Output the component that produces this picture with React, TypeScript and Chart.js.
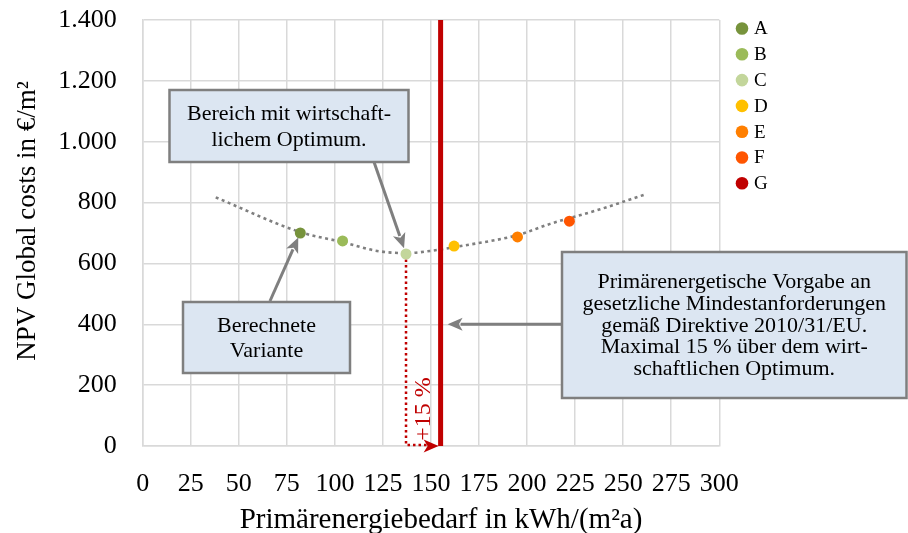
import React, { useEffect, useRef } from 'react';
import { Chart, registerables } from 'chart.js';

Chart.register(...registerables);

// ---------- data ----------
const variantLabels = ['A', 'B', 'C', 'D', 'E', 'F'];
const variantEnergy = [82, 104, 137, 162, 195, 222];
const variantCosts = [700, 674, 631, 657, 687, 739];
const variantColors = ['#77933C', '#9BBB59', '#C3D69B', '#FFC000', '#FF7F00', '#FF5500'];

const limitLabel = 'G';
const limitEnergy = 155;
const limitColor = '#C00000';

const trendEnergy = [38, 82, 104, 122, 137.5, 149.5, 163.5, 195, 212, 238, 262];
const trendCosts = [817, 703, 670, 641, 634, 641, 655, 693, 730, 778, 828];

const xMin = 0;
const xMax = 300;
const xStep = 25;
const yMin = 0;
const yMax = 1400;
const yStep = 200;

const yAxisTitle = 'NPV Global costs in €/m²';
const xAxisTitle = 'Primärenergiebedarf in kWh/(m²a)';
const noteOptimum = ['Bereich mit wirtschaft-', 'lichem Optimum.'];
const noteVariant = ['Berechnete', 'Variante'];
const noteLimit = [
  'Primärenergetische Vorgabe an',
  'gesetzliche Mindestanforderungen',
  'gemäß Direktive 2010/31/EU.',
  'Maximal 15 % über dem wirt-',
  'schaftlichen Optimum.',
];
const percentLabel = '+15 %';
const limitArrowCost = 400;

// ---------- helpers ----------
const FONT = "'Liberation Serif', serif";

function fmt(v: number): string {
  const s = String(Math.round(v));
  return s.replace(/\B(?=(\d{3})+(?!\d))/g, '.');
}

function arrow(ctx: CanvasRenderingContext2D, x1: number, y1: number, x2: number, y2: number, color: string, lw: number, headLen: number, headW: number) {
  const dx = x2 - x1;
  const dy = y2 - y1;
  const len = Math.hypot(dx, dy);
  const ux = dx / len;
  const uy = dy / len;
  const bx = x2 - ux * headLen;
  const by = y2 - uy * headLen;
  ctx.save();
  ctx.strokeStyle = color;
  ctx.fillStyle = color;
  ctx.lineWidth = lw;
  ctx.beginPath();
  ctx.moveTo(x1, y1);
  ctx.lineTo(bx + ux * 2, by + uy * 2);
  ctx.stroke();
  ctx.beginPath();
  ctx.moveTo(x2, y2);
  ctx.lineTo(bx - uy * headW / 2, by + ux * headW / 2);
  ctx.lineTo(bx + ux * headLen * 0.25, by + uy * headLen * 0.25);
  ctx.lineTo(bx + uy * headW / 2, by - ux * headW / 2);
  ctx.closePath();
  ctx.fill();
  ctx.restore();
}

function box(ctx: CanvasRenderingContext2D, x: number, y: number, w: number, h: number, lines: string[], size: number, lineH: number) {
  ctx.save();
  ctx.fillStyle = '#DCE6F2';
  ctx.strokeStyle = '#7F7F7F';
  ctx.lineWidth = 2.5;
  ctx.fillRect(x, y, w, h);
  ctx.strokeRect(x, y, w, h);
  ctx.fillStyle = '#000';
  ctx.font = `${size}px ${FONT}`;
  ctx.textAlign = 'center';
  ctx.textBaseline = 'middle';
  const cx = x + w / 2;
  const cy = y + h / 2;
  const start = cy - ((lines.length - 1) * lineH) / 2;
  lines.forEach((l, i) => ctx.fillText(l, cx, start + i * lineH + 1));
  ctx.restore();
}

const overlayPlugin = {
  id: 'overlay',
  beforeDatasetsDraw(chart: any) {
    const ctx = chart.ctx as CanvasRenderingContext2D;
    const xs = chart.scales.x;
    const ys = chart.scales.y;
    const cIdx = 2;
    const cx = xs.getPixelForValue(variantEnergy[cIdx]);
    const cy = ys.getPixelForValue(variantCosts[cIdx]);
    const by = ys.getPixelForValue(yMin);
    const lx = xs.getPixelForValue(limitEnergy);
    ctx.save();
    ctx.strokeStyle = limitColor;
    ctx.lineWidth = 2.5;
    ctx.setLineDash([2.5, 3]);
    ctx.beginPath();
    ctx.moveTo(cx, cy);
    ctx.lineTo(cx, by - 1);
    ctx.lineTo(lx - 14, by - 1);
    ctx.stroke();
    ctx.setLineDash([]);
    ctx.fillStyle = limitColor;
    ctx.beginPath();
    ctx.moveTo(lx - 2, by);
    ctx.lineTo(lx - 17, by - 6.5);
    ctx.lineTo(lx - 13, by);
    ctx.lineTo(lx - 17, by + 6.5);
    ctx.closePath();
    ctx.fill();
    // +15 % label
    ctx.translate(cx + 18, by - 37);
    ctx.rotate(-Math.PI / 2);
    ctx.font = `24px ${FONT}`;
    ctx.textAlign = 'center';
    ctx.textBaseline = 'middle';
    ctx.fillText(percentLabel, 0, 0);
    ctx.restore();
  },
  afterDraw(chart: any) {
    const ctx = chart.ctx as CanvasRenderingContext2D;
    const xs = chart.scales.x;
    const ys = chart.scales.y;

    // axis titles
    ctx.save();
    ctx.fillStyle = '#000';
    ctx.font = `29px ${FONT}`;
    ctx.textAlign = 'center';
    ctx.textBaseline = 'middle';
    ctx.fillText(xAxisTitle, 441, 520);
    ctx.font = `27px ${FONT}`;
    ctx.translate(28, 221);
    ctx.rotate(-Math.PI / 2);
    ctx.fillText(yAxisTitle, 0, 0);
    ctx.restore();

    // legend
    ctx.save();
    ctx.font = `19px ${FONT}`;
    ctx.textBaseline = 'middle';
    ctx.textAlign = 'left';
    const legendLabels = [...variantLabels, limitLabel];
    const legendColors = [...variantColors, limitColor];
    legendLabels.forEach((l, i) => {
      const y = 28.5 + i * 25.8;
      ctx.fillStyle = legendColors[i];
      ctx.beginPath();
      ctx.arc(742, y, 6.3, 0, Math.PI * 2);
      ctx.fill();
      ctx.fillStyle = '#000';
      ctx.fillText(l, 754, y + 1);
    });
    ctx.restore();

    // arrows
    const grey = '#7F7F7F';
    const ax = xs.getPixelForValue(variantEnergy[0]);
    const ay = ys.getPixelForValue(variantCosts[0]);
    {
      const sx = 270, sy = 301;
      const d = Math.hypot(ax - sx, ay - sy);
      arrow(ctx, sx, sy, ax - ((ax - sx) / d) * 5, ay - ((ay - sy) / d) * 5, grey, 3, 15, 13);
    }
    const cx = xs.getPixelForValue(variantEnergy[2]);
    const cy = ys.getPixelForValue(variantCosts[2]);
    {
      const sx = 374, sy = 162;
      const d = Math.hypot(cx - sx, cy - sy);
      arrow(ctx, sx, sy, cx - ((cx - sx) / d) * 6, cy - ((cy - sy) / d) * 6, grey, 3, 15, 13);
    }
    const lx = xs.getPixelForValue(limitEnergy);
    const ly = ys.getPixelForValue(limitArrowCost);
    arrow(ctx, 562, ly, lx + 7, ly, grey, 3, 15, 13);

    // boxes
    box(ctx, 169.5, 90, 239, 72, noteOptimum, 22, 26.5);
    box(ctx, 183, 302, 167, 71, noteVariant, 22, 25);
    box(ctx, 562, 252, 344.5, 146, noteLimit, 22, 21.7);
  },
};

export default function App() {
  const ref = useRef<HTMLCanvasElement>(null);
  useEffect(() => {
    document.body.style.margin = '0';
    const canvas = ref.current!;
    const datasets: any[] = [];
    variantLabels.forEach((l, i) => {
      datasets.push({
        type: 'scatter',
        label: l,
        data: [{ x: variantEnergy[i], y: variantCosts[i] }],
        backgroundColor: variantColors[i],
        borderColor: variantColors[i],
        pointRadius: 5.5,
        pointBorderWidth: 0,
        order: 1,
      });
    });
    datasets.push({
      type: 'line',
      label: limitLabel,
      data: [
        { x: limitEnergy, y: yMin },
        { x: limitEnergy, y: yMax },
      ],
      borderColor: limitColor,
      borderWidth: 5,
      pointRadius: 0,
      order: 0,
    });
    datasets.push({
      type: 'line',
      label: 'Trend',
      data: trendEnergy.map((x, i) => ({ x, y: trendCosts[i] })),
      borderColor: '#7F7F7F',
      borderWidth: 2.6,
      borderDash: [3, 3.5],
      borderCapStyle: 'butt',
      pointRadius: 0,
      cubicInterpolationMode: 'monotone',
      order: 2,
    });

    const chart = new Chart(canvas, {
      type: 'scatter',
      data: { datasets },
      options: {
        animation: false,
        responsive: false,
        devicePixelRatio: 1,
        layout: { padding: { left: 0, right: 188.7, top: 20, bottom: 0 } },
        plugins: { legend: { display: false }, tooltip: { enabled: false } },
        scales: {
          x: {
            type: 'linear',
            min: xMin,
            max: xMax,
            afterFit: (s: any) => {
              s.height = 87;
              s.paddingLeft = 0;
              s.paddingRight = 0;
            },
            ticks: {
              stepSize: xStep,
              color: '#000',
              padding: 23,
              maxRotation: 0,
              autoSkip: false,
              font: { family: FONT, size: 26 },
              callback: (v: any) => fmt(Number(v)),
            },
            grid: { color: '#D9D9D9', lineWidth: 1.5, drawTicks: false },
            border: { color: '#D9D9D9', width: 1.5 },
          },
          y: {
            type: 'linear',
            min: yMin,
            max: yMax,
            afterFit: (s: any) => {
              s.width = 142.7;
              s.paddingTop = 0;
              s.paddingBottom = 0;
            },
            ticks: {
              stepSize: yStep,
              color: '#000',
              padding: 26,
              font: { family: FONT, size: 26 },
              callback: (v: any) => fmt(Number(v)),
            },
            grid: { color: '#D9D9D9', lineWidth: 1.5, drawTicks: false },
            border: { color: '#D9D9D9', width: 1.5 },
          },
        },
      },
      plugins: [overlayPlugin],
    });
    return () => chart.destroy();
  }, []);
  return (
    <div style={{ position: 'fixed', left: 0, top: 0, width: 908, height: 533, background: '#fff' }}>
      <canvas ref={ref} width={908} height={533} style={{ width: 908, height: 533 }} />
    </div>
  );
}
